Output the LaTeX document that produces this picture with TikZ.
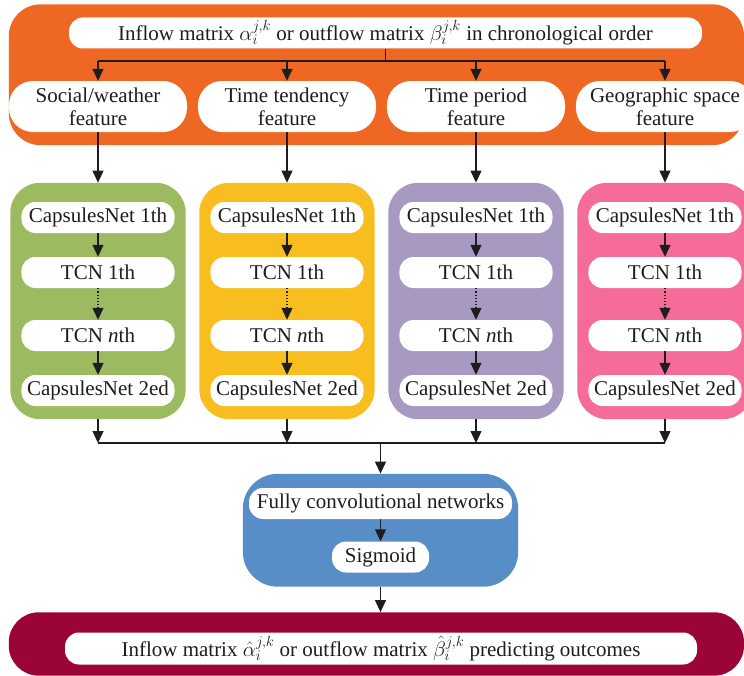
\RequirePackage{fix-cm}
\documentclass[tikz,border=0pt]{standalone}
\usepackage{fontspec}
\setmainfont{Liberation Serif}
\usetikzlibrary{fit,backgrounds,arrows.meta}

\definecolor{ink}{RGB}{30,28,30}
\definecolor{orng}{RGB}{238,103,35}
\definecolor{grn}{RGB}{156,187,97}
\definecolor{ylw}{RGB}{248,189,30}
\definecolor{prp}{RGB}{168,153,194}
\definecolor{pnk}{RGB}{244,108,151}
\definecolor{blu}{RGB}{88,142,199}
\definecolor{mrn}{RGB}{154,4,54}

\begin{document}
\begin{tikzpicture}[x=1pt,y=-1pt,
  every node/.style={font=\fontsize{21}{23}\selectfont, text=ink},
  pill/.style={fill=white, rounded corners=14pt, minimum height=31pt, inner sep=2pt},
  unit/.style={pill, minimum width=153pt},
  feat/.style={fill=white, rounded corners=24pt, minimum height=51pt, minimum width=178pt, align=center, inner sep=2pt},
  panel/.style={rounded corners=30pt, inner xsep=11pt, inner ysep=13pt},
  arr/.style={draw=ink, line width=1.2pt, -{Triangle[length=12pt,width=11pt]}}]
\useasboundingbox (0,0) rectangle (744,676);

\node[pill, minimum width=633pt] (src) at (385.5,33)
  {Inflow matrix $\alpha_i^{j,k}$ or outflow matrix $\beta_i^{j,k}$ in chronological order};
\matrix[matrix anchor=f1.center, column sep={189pt,between origins}, row sep=24pt] at (98,106.5)
{ \node[feat](f1) {Social/weather\\feature}; & \node[feat](f2) {Time tendency\\feature}; &
  \node[feat](f3) {Time period\\feature}; & \node[feat](f4) {Geographic space\\feature}; \\[46pt]
  \node[unit](c1) {CapsulesNet 1th}; & \node[unit](c2) {CapsulesNet 1th}; &
  \node[unit](c3) {CapsulesNet 1th}; & \node[unit](c4) {CapsulesNet 1th}; \\
  \node[unit](t1) {TCN 1th}; & \node[unit](t2) {TCN 1th}; &
  \node[unit](t3) {TCN 1th}; & \node[unit](t4) {TCN 1th}; \\[8pt]
  \node[unit](n1) {TCN \textit{n}th}; & \node[unit](n2) {TCN \textit{n}th}; &
  \node[unit](n3) {TCN \textit{n}th}; & \node[unit](n4) {TCN \textit{n}th}; \\
  \node[unit](d1) {CapsulesNet 2ed}; & \node[unit](d2) {CapsulesNet 2ed}; &
  \node[unit](d3) {CapsulesNet 2ed}; & \node[unit](d4) {CapsulesNet 2ed}; \\};

\node[pill, minimum width=263pt] (fcn) at (380.5,503.5) {Fully convolutional networks};
\node[pill, minimum width=97pt] (sig) at (380.5,557) {Sigmoid};
\node[pill, minimum width=632pt, minimum height=32pt] (out) at (381,648.5)
  {Inflow matrix $\hat{\alpha}_i^{j,k}$ or outflow matrix $\hat{\beta}_i^{j,k}$ predicting outcomes};

\coordinate (hr) at (744,100);
\coordinate (lr) at (744,648);
\begin{scope}[on background layer]
\node[fit=(src)(f1)(hr), fill=orng, rounded corners=32pt, inner xsep=0pt, inner ysep=13pt] (head) {};
\foreach \i/\col in {1/grn,2/ylw,3/prp,4/pnk}
  \node[panel, fill=\col, fit={(c\i)(d\i)([yshift=6pt]c\i.north)}] (p\i) {};
\node[fit=(fcn)(sig), fill=blu, rounded corners=35pt, inner xsep=6pt, inner ysep=14pt] (net) {};
\node[fit={([xshift=-56pt,yshift=9pt]out.north west)(out.south)(lr)}, fill=mrn, rounded corners=30pt, inner xsep=0pt, inner ysep=11pt] (res) {};
\end{scope}

\coordinate (br) at (385.5,61);
\coordinate (mg) at (380.5,443);
\draw[draw=ink, line width=1.2pt] (src) -- (br);
\draw[draw=ink, line width=1.2pt] (br -| f1) -- (br -| f4);
\draw[draw=ink, line width=1.2pt] (mg -| p1) -- (mg -| p4);
\foreach \i in {1,...,4} {
  \draw[arr] (br -| f\i) -- (f\i);
  \draw[arr] (f\i) -- (p\i);
  \draw[arr] (c\i) -- (t\i);
  \draw[arr, dotted] (t\i) -- (n\i);
  \draw[arr] (n\i) -- (d\i);
  \draw[arr] (p\i) -- (mg -| p\i);
}
\draw[arr] (mg) -- (net);
\draw[arr] (fcn) -- (sig);
\draw[arr] (net) -- (net |- res.north);
\end{tikzpicture}
\end{document}
